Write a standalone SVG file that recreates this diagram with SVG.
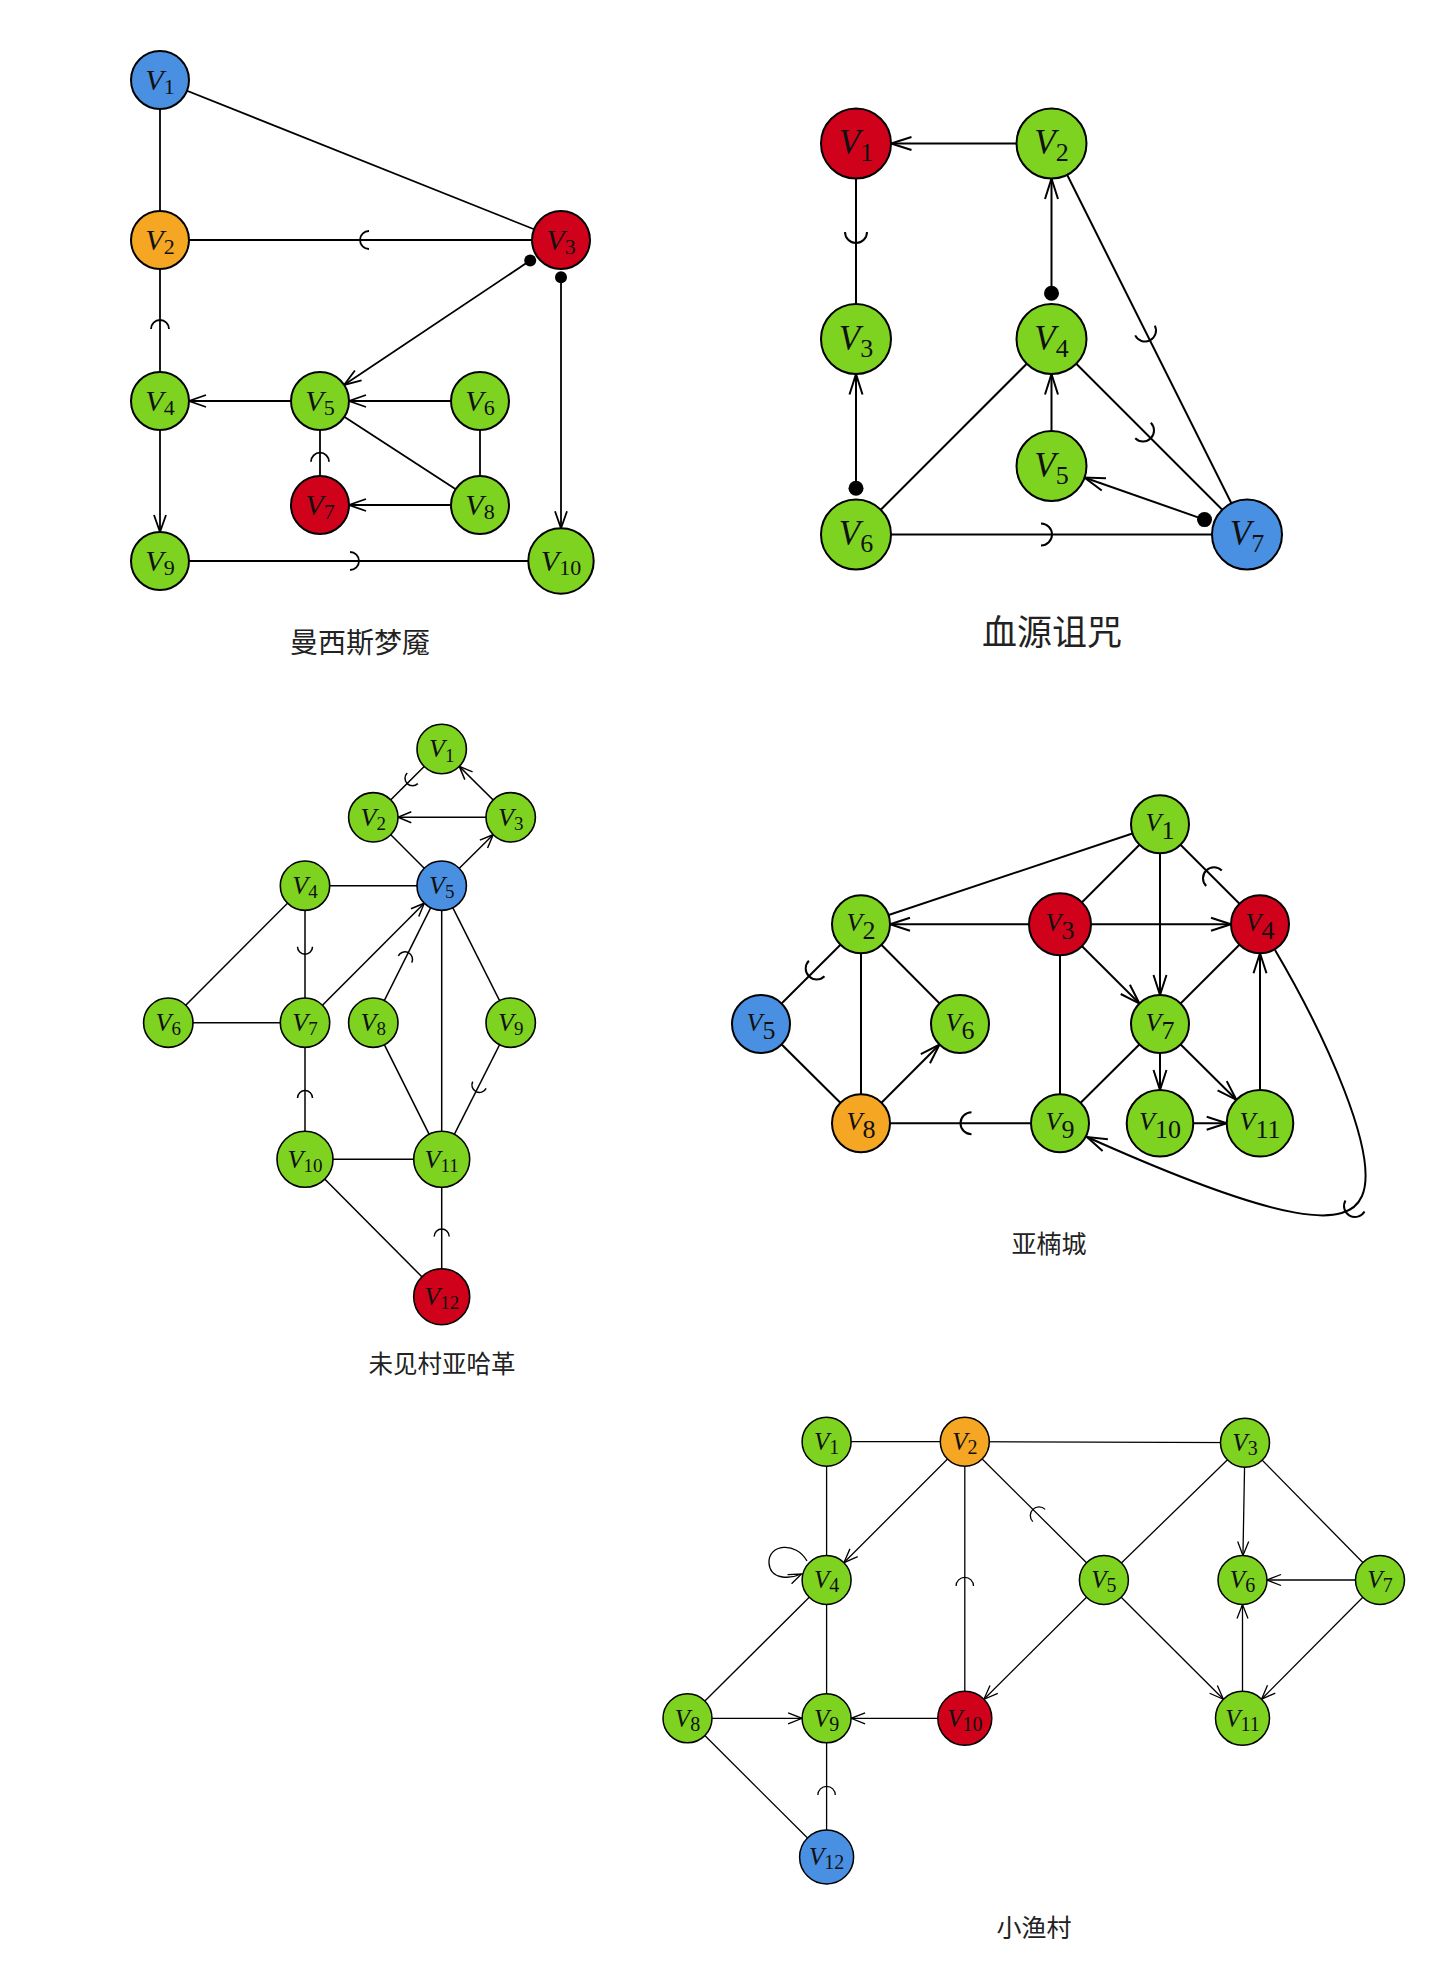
<svg xmlns="http://www.w3.org/2000/svg" xmlns:xlink="http://www.w3.org/1999/xlink" width="1440" height="1964" viewBox="0 0 1440 1964">
<style>
.e{fill:none;stroke:#000}
.e1{stroke-width:1.8}.e2{stroke-width:2}.e3{stroke-width:1.5}.e4{stroke-width:2}.e5{stroke-width:1.3}
.dot{fill:#000;stroke:none}
.n{stroke:#000}
.nb{fill:#4A90E2}.no{fill:#F5A623}.nr{fill:#D0021B}.ng{fill:#7ED321}
.w1{stroke-width:2}.w2{stroke-width:2}.w3{stroke-width:1.6}.w4{stroke-width:2}.w5{stroke-width:1.5}
.lab{font-family:"Liberation Serif","Times New Roman",serif;text-anchor:middle;fill:#111}
.it{font-style:italic}
.L1{font-size:30px}.S1{font-size:22px}
.L2{font-size:35px}.S2{font-size:26px}
.L3{font-size:26px}.S3{font-size:19px}
.L4{font-size:26px}.S4{font-size:26px}
.L5{font-size:25px}.S5{font-size:20px}
.title{font-family:"Noto Sans CJK SC","Noto Sans",sans-serif;text-anchor:middle;fill:#222}
.ah{fill:none;stroke:#000;stroke-linejoin:miter}
</style>
<defs>
<path id="j1" d="M 0 -9 A 9 9 0 0 0 0 9"/>
<path id="j2" d="M 0 -11 A 11 11 0 0 0 0 11"/>
<path id="j3" d="M 0 -7.5 A 7.5 7.5 0 0 0 0 7.5"/>
<path id="j4" d="M 0 -11 A 11 11 0 0 0 0 11"/>
<path id="j5" d="M 0 -8.7 A 8.7 8.7 0 0 0 0 8.7"/>
<marker id="a1" markerUnits="userSpaceOnUse" orient="auto" markerWidth="1" markerHeight="1" overflow="visible"><path class="ah" stroke-width="1.8" d="M -46 -6 L -29 0 L -46 6"/></marker>
<marker id="a1b" markerUnits="userSpaceOnUse" orient="auto" markerWidth="1" markerHeight="1" overflow="visible"><path class="ah" stroke-width="1.8" d="M -49.7 -6 L -32.7 0 L -49.7 6"/></marker>
<marker id="a2" markerUnits="userSpaceOnUse" orient="auto" markerWidth="1" markerHeight="1" overflow="visible"><path class="ah" stroke-width="2" d="M -55.5 -6.5 L -35 0 L -55.5 6.5"/></marker>
<marker id="a3" markerUnits="userSpaceOnUse" orient="auto" markerWidth="1" markerHeight="1" overflow="visible"><path class="ah" stroke-width="1.5" d="M -38 -5.5 L -24.7 0 L -38 5.5"/></marker>
<marker id="a4" markerUnits="userSpaceOnUse" orient="auto" markerWidth="1" markerHeight="1" overflow="visible"><path class="ah" stroke-width="2" d="M -49 -6.5 L -29 0 L -49 6.5"/></marker>
<marker id="a4b" markerUnits="userSpaceOnUse" orient="auto" markerWidth="1" markerHeight="1" overflow="visible"><path class="ah" stroke-width="2" d="M -53.3 -6.5 L -33.3 0 L -53.3 6.5"/></marker>
<marker id="a4c" markerUnits="userSpaceOnUse" orient="auto" markerWidth="1" markerHeight="1" overflow="visible"><path class="ah" stroke-width="2" d="M -20 -6.5 L 0 0 L -20 6.5"/></marker>
<marker id="a5" markerUnits="userSpaceOnUse" orient="auto" markerWidth="1" markerHeight="1" overflow="visible"><path class="ah" stroke-width="1.3" d="M -38.5 -5.5 L -24.5 0 L -38.5 5.5"/></marker>
<marker id="a5b" markerUnits="userSpaceOnUse" orient="auto" markerWidth="1" markerHeight="1" overflow="visible"><path class="ah" stroke-width="1.3" d="M -41 -5.5 L -27 0 L -41 5.5"/></marker>
<marker id="a5c" markerUnits="userSpaceOnUse" orient="auto" markerWidth="1" markerHeight="1" overflow="visible"><path class="ah" stroke-width="1.3" d="M -13 -5 L 0 0 L -13 5"/></marker>
</defs>
<rect width="1440" height="1964" fill="#fff"/>

<!-- Graph 1 connectors -->
<g id="connectors-1" class="e e1">
<line x1="160" y1="80" x2="160" y2="240"/>
<line x1="160" y1="80" x2="561" y2="240"/>
<line x1="160" y1="240" x2="561" y2="240"/>
<use href="#j1" transform="translate(369 240)"/>
<line x1="160" y1="240" x2="160" y2="401"/>
<use href="#j1" transform="translate(160 329) rotate(90)"/>
<line x1="530.2" y1="260.5" x2="320" y2="401" marker-end="url(#a1)"/>
<circle class="dot" cx="530.2" cy="260.5" r="6"/>
<line x1="561" y1="277.3" x2="561" y2="561" marker-end="url(#a1b)"/>
<circle class="dot" cx="561" cy="277.3" r="6"/>
<line x1="320" y1="401" x2="160" y2="401" marker-end="url(#a1)"/>
<line x1="480" y1="401" x2="320" y2="401" marker-end="url(#a1)"/>
<line x1="320" y1="401" x2="480" y2="505"/>
<line x1="480" y1="401" x2="480" y2="505"/>
<line x1="320" y1="505" x2="320" y2="401"/>
<use href="#j1" transform="translate(320 461.7) rotate(90)"/>
<line x1="480" y1="505" x2="320" y2="505" marker-end="url(#a1)"/>
<line x1="160" y1="401" x2="160" y2="561" marker-end="url(#a1)"/>
<line x1="160" y1="561" x2="561" y2="561"/>
<use href="#j1" transform="translate(350 561) rotate(180)"/>
</g>
<g id="g1-V1"><circle class="n nb w1" cx="160" cy="80" r="29"/><text class="lab L1" x="160" y="90"><tspan class="it">V</tspan><tspan class="S1" dy="4">1</tspan></text></g>
<g id="g1-V2"><circle class="n no w1" cx="160" cy="240" r="29"/><text class="lab L1" x="160" y="250"><tspan class="it">V</tspan><tspan class="S1" dy="4">2</tspan></text></g>
<g id="g1-V3"><circle class="n nr w1" cx="561" cy="240" r="29"/><text class="lab L1" x="561" y="250"><tspan class="it">V</tspan><tspan class="S1" dy="4">3</tspan></text></g>
<g id="g1-V4"><circle class="n ng w1" cx="160" cy="401" r="29"/><text class="lab L1" x="160" y="411"><tspan class="it">V</tspan><tspan class="S1" dy="4">4</tspan></text></g>
<g id="g1-V5"><circle class="n ng w1" cx="320" cy="401" r="29"/><text class="lab L1" x="320" y="411"><tspan class="it">V</tspan><tspan class="S1" dy="4">5</tspan></text></g>
<g id="g1-V6"><circle class="n ng w1" cx="480" cy="401" r="29"/><text class="lab L1" x="480" y="411"><tspan class="it">V</tspan><tspan class="S1" dy="4">6</tspan></text></g>
<g id="g1-V7"><circle class="n nr w1" cx="320" cy="505" r="29"/><text class="lab L1" x="320" y="515"><tspan class="it">V</tspan><tspan class="S1" dy="4">7</tspan></text></g>
<g id="g1-V8"><circle class="n ng w1" cx="480" cy="505" r="29"/><text class="lab L1" x="480" y="515"><tspan class="it">V</tspan><tspan class="S1" dy="4">8</tspan></text></g>
<g id="g1-V9"><circle class="n ng w1" cx="160" cy="561" r="29"/><text class="lab L1" x="160" y="571"><tspan class="it">V</tspan><tspan class="S1" dy="4">9</tspan></text></g>
<g id="g1-V10"><circle class="n ng w1" cx="561" cy="561" r="32.7"/><text class="lab L1" x="561" y="571"><tspan class="it">V</tspan><tspan class="S1" dy="4">10</tspan></text></g>
<text id="title-1" class="title" x="360" y="653" font-size="28">曼西斯梦魇</text>

<!-- Graph 2 connectors -->
<g id="connectors-2" class="e e2">
<line x1="1051.5" y1="143.5" x2="856" y2="143.5" marker-end="url(#a2)"/>
<line x1="856" y1="143.5" x2="856" y2="339"/>
<use href="#j2" transform="translate(856 232) rotate(-90)"/>
<line x1="1051.5" y1="293.3" x2="1051.5" y2="143.5" marker-end="url(#a2)"/>
<circle class="dot" cx="1051.5" cy="293.3" r="7.5"/>
<line x1="1051.5" y1="143.5" x2="1247" y2="534.5"/>
<use href="#j2" transform="translate(1145 330.5) rotate(-116.6)"/>
<line x1="856" y1="488.3" x2="856" y2="339" marker-end="url(#a2)"/>
<circle class="dot" cx="856" cy="488.3" r="7.5"/>
<line x1="856" y1="534.5" x2="1051.5" y2="339"/>
<line x1="1051.5" y1="466" x2="1051.5" y2="339" marker-end="url(#a2)"/>
<line x1="1051.5" y1="339" x2="1247" y2="534.5"/>
<use href="#j2" transform="translate(1143 430.5) rotate(-135)"/>
<line x1="1204.5" y1="519.6" x2="1051.5" y2="466" marker-end="url(#a2)"/>
<circle class="dot" cx="1204.5" cy="519.6" r="7.5"/>
<line x1="856" y1="534.5" x2="1247" y2="534.5"/>
<use href="#j2" transform="translate(1041 534.5) rotate(180)"/>
</g>
<g id="g2-V1"><circle class="n nr w2" cx="856" cy="143.5" r="35"/><text class="lab L2" x="856" y="154.2"><tspan class="it">V</tspan><tspan class="S2" dy="7">1</tspan></text></g>
<g id="g2-V2"><circle class="n ng w2" cx="1051.5" cy="143.5" r="35"/><text class="lab L2" x="1051.5" y="154.2"><tspan class="it">V</tspan><tspan class="S2" dy="7">2</tspan></text></g>
<g id="g2-V3"><circle class="n ng w2" cx="856" cy="339" r="35"/><text class="lab L2" x="856" y="349.7"><tspan class="it">V</tspan><tspan class="S2" dy="7">3</tspan></text></g>
<g id="g2-V4"><circle class="n ng w2" cx="1051.5" cy="339" r="35"/><text class="lab L2" x="1051.5" y="349.7"><tspan class="it">V</tspan><tspan class="S2" dy="7">4</tspan></text></g>
<g id="g2-V5"><circle class="n ng w2" cx="1051.5" cy="466" r="35"/><text class="lab L2" x="1051.5" y="476.7"><tspan class="it">V</tspan><tspan class="S2" dy="7">5</tspan></text></g>
<g id="g2-V6"><circle class="n ng w2" cx="856" cy="534.5" r="35"/><text class="lab L2" x="856" y="545.2"><tspan class="it">V</tspan><tspan class="S2" dy="7">6</tspan></text></g>
<g id="g2-V7"><circle class="n nb w2" cx="1247" cy="534.5" r="35"/><text class="lab L2" x="1247" y="545.2"><tspan class="it">V</tspan><tspan class="S2" dy="7">7</tspan></text></g>
<text id="title-2" class="title" x="1052" y="645" font-size="35">血源诅咒</text>

<!-- Graph 3 connectors -->
<g id="connectors-3" class="e e3">
<line x1="441.7" y1="749" x2="373.3" y2="817.3"/>
<use href="#j3" transform="translate(412.5 778.3) rotate(-45)"/>
<line x1="510.7" y1="817.3" x2="441.7" y2="749" marker-end="url(#a3)"/>
<line x1="510.7" y1="817.3" x2="373.3" y2="817.3" marker-end="url(#a3)"/>
<line x1="373.3" y1="817.3" x2="441.7" y2="885.7"/>
<line x1="441.7" y1="885.7" x2="510.7" y2="817.3" marker-end="url(#a3)"/>
<line x1="305" y1="885.7" x2="441.7" y2="885.7"/>
<line x1="305" y1="885.7" x2="168.3" y2="1022.7"/>
<line x1="305" y1="885.7" x2="305" y2="1022.7"/>
<use href="#j3" transform="translate(305 946.7) rotate(-90)"/>
<line x1="168.3" y1="1022.7" x2="305" y2="1022.7"/>
<line x1="305" y1="1022.7" x2="441.7" y2="885.7" marker-end="url(#a3)"/>
<line x1="373.3" y1="1022.7" x2="441.7" y2="885.7"/>
<use href="#j3" transform="translate(405 959.3) rotate(116.6)"/>
<line x1="441.7" y1="885.7" x2="441.7" y2="1159.3"/>
<line x1="441.7" y1="885.7" x2="510.7" y2="1022.7"/>
<line x1="373.3" y1="1022.7" x2="441.7" y2="1159.3"/>
<line x1="510.7" y1="1022.7" x2="441.7" y2="1159.3"/>
<use href="#j3" transform="translate(479.4 1085) rotate(-63.3)"/>
<line x1="305" y1="1022.7" x2="305" y2="1159.3"/>
<use href="#j3" transform="translate(305 1098) rotate(90)"/>
<line x1="305" y1="1159.3" x2="441.7" y2="1159.3"/>
<line x1="305" y1="1159.3" x2="441.7" y2="1296.7"/>
<line x1="441.7" y1="1159.3" x2="441.7" y2="1296.7"/>
<use href="#j3" transform="translate(441.7 1236.5) rotate(90)"/>
</g>
<g id="g3-V1"><circle class="n ng w3" cx="441.7" cy="749" r="24.7"/><text class="lab L3" x="441.7" y="757.3"><tspan class="it">V</tspan><tspan class="S3" dy="4.4">1</tspan></text></g>
<g id="g3-V2"><circle class="n ng w3" cx="373.3" cy="817.3" r="24.7"/><text class="lab L3" x="373.3" y="825.6"><tspan class="it">V</tspan><tspan class="S3" dy="4.4">2</tspan></text></g>
<g id="g3-V3"><circle class="n ng w3" cx="510.7" cy="817.3" r="24.7"/><text class="lab L3" x="510.7" y="825.6"><tspan class="it">V</tspan><tspan class="S3" dy="4.4">3</tspan></text></g>
<g id="g3-V4"><circle class="n ng w3" cx="305" cy="885.7" r="24.7"/><text class="lab L3" x="305" y="894"><tspan class="it">V</tspan><tspan class="S3" dy="4.4">4</tspan></text></g>
<g id="g3-V5"><circle class="n nb w3" cx="441.7" cy="885.7" r="24.7"/><text class="lab L3" x="441.7" y="894"><tspan class="it">V</tspan><tspan class="S3" dy="4.4">5</tspan></text></g>
<g id="g3-V6"><circle class="n ng w3" cx="168.3" cy="1022.7" r="24.7"/><text class="lab L3" x="168.3" y="1031"><tspan class="it">V</tspan><tspan class="S3" dy="4.4">6</tspan></text></g>
<g id="g3-V7"><circle class="n ng w3" cx="305" cy="1022.7" r="24.7"/><text class="lab L3" x="305" y="1031"><tspan class="it">V</tspan><tspan class="S3" dy="4.4">7</tspan></text></g>
<g id="g3-V8"><circle class="n ng w3" cx="373.3" cy="1022.7" r="24.7"/><text class="lab L3" x="373.3" y="1031"><tspan class="it">V</tspan><tspan class="S3" dy="4.4">8</tspan></text></g>
<g id="g3-V9"><circle class="n ng w3" cx="510.7" cy="1022.7" r="24.7"/><text class="lab L3" x="510.7" y="1031"><tspan class="it">V</tspan><tspan class="S3" dy="4.4">9</tspan></text></g>
<g id="g3-V10"><circle class="n ng w3" cx="305" cy="1159.3" r="28"/><text class="lab L3" x="305" y="1167.6"><tspan class="it">V</tspan><tspan class="S3" dy="4.4">10</tspan></text></g>
<g id="g3-V11"><circle class="n ng w3" cx="441.7" cy="1159.3" r="28"/><text class="lab L3" x="441.7" y="1167.6"><tspan class="it">V</tspan><tspan class="S3" dy="4.4">11</tspan></text></g>
<g id="g3-V12"><circle class="n nr w3" cx="441.7" cy="1296.7" r="28"/><text class="lab L3" x="441.7" y="1305"><tspan class="it">V</tspan><tspan class="S3" dy="4.4">12</tspan></text></g>
<text id="title-3" class="title" x="442" y="1373" font-size="24.5">未见村亚哈革</text>

<!-- Graph 4 connectors -->
<g id="connectors-4" class="e e4">
<line x1="1160" y1="824.3" x2="861" y2="924.3"/>
<line x1="1160" y1="824.3" x2="1060" y2="924.3"/>
<line x1="1160" y1="824.3" x2="1160" y2="1024" marker-end="url(#a4)"/>
<line x1="1160" y1="824.3" x2="1260" y2="924.3"/>
<use href="#j4" transform="translate(1214 878.3) rotate(45)"/>
<line x1="1060" y1="924.3" x2="861" y2="924.3" marker-end="url(#a4)"/>
<line x1="1060" y1="924.3" x2="1260" y2="924.3" marker-end="url(#a4)"/>
<line x1="1060" y1="924.3" x2="1160" y2="1024" marker-end="url(#a4)"/>
<line x1="1060" y1="924.3" x2="1060" y2="1123.3"/>
<line x1="1260" y1="924.3" x2="1160" y2="1024"/>
<line x1="1260" y1="1123.3" x2="1260" y2="924.3" marker-end="url(#a4)"/>
<line x1="861" y1="924.3" x2="761" y2="1024"/>
<use href="#j4" transform="translate(816.7 968.5) rotate(-45)"/>
<line x1="861" y1="924.3" x2="861" y2="1123.3"/>
<line x1="861" y1="924.3" x2="960" y2="1024"/>
<line x1="761" y1="1024" x2="861" y2="1123.3"/>
<line x1="861" y1="1123.3" x2="960" y2="1024" marker-end="url(#a4)"/>
<line x1="1160" y1="1024" x2="1060" y2="1123.3"/>
<line x1="1160" y1="1024" x2="1160" y2="1123.3" marker-end="url(#a4b)"/>
<line x1="1160" y1="1024" x2="1260" y2="1123.3" marker-end="url(#a4b)"/>
<line x1="1160" y1="1123.3" x2="1260" y2="1123.3" marker-end="url(#a4b)"/>
<line x1="861" y1="1123.3" x2="1060" y2="1123.3"/>
<use href="#j4" transform="translate(971.5 1123.3)"/>
<path d="M 1275 950 C 1325 1035, 1380 1155, 1362 1196 C 1348 1228, 1290 1228, 1087 1137" marker-end="url(#a4c)"/>
<use href="#j4" transform="translate(1355 1206) rotate(-60)"/>
</g>
<g id="g4-V1"><circle class="n ng w4" cx="1160" cy="824.3" r="29"/><text class="lab L4" x="1160" y="831"><tspan class="it">V</tspan><tspan class="S4" dy="8">1</tspan></text></g>
<g id="g4-V2"><circle class="n ng w4" cx="861" cy="924.3" r="29"/><text class="lab L4" x="861" y="931"><tspan class="it">V</tspan><tspan class="S4" dy="8">2</tspan></text></g>
<g id="g4-V3"><circle class="n nr w4" cx="1060" cy="924.3" r="31"/><text class="lab L4" x="1060" y="931"><tspan class="it">V</tspan><tspan class="S4" dy="8">3</tspan></text></g>
<g id="g4-V4"><circle class="n nr w4" cx="1260" cy="924.3" r="29"/><text class="lab L4" x="1260" y="931"><tspan class="it">V</tspan><tspan class="S4" dy="8">4</tspan></text></g>
<g id="g4-V5"><circle class="n nb w4" cx="761" cy="1024" r="29"/><text class="lab L4" x="761" y="1030.7"><tspan class="it">V</tspan><tspan class="S4" dy="8">5</tspan></text></g>
<g id="g4-V6"><circle class="n ng w4" cx="960" cy="1024" r="29"/><text class="lab L4" x="960" y="1030.7"><tspan class="it">V</tspan><tspan class="S4" dy="8">6</tspan></text></g>
<g id="g4-V7"><circle class="n ng w4" cx="1160" cy="1024" r="29"/><text class="lab L4" x="1160" y="1030.7"><tspan class="it">V</tspan><tspan class="S4" dy="8">7</tspan></text></g>
<g id="g4-V8"><circle class="n no w4" cx="861" cy="1123.3" r="29"/><text class="lab L4" x="861" y="1130"><tspan class="it">V</tspan><tspan class="S4" dy="8">8</tspan></text></g>
<g id="g4-V9"><circle class="n ng w4" cx="1060" cy="1123.3" r="29"/><text class="lab L4" x="1060" y="1130"><tspan class="it">V</tspan><tspan class="S4" dy="8">9</tspan></text></g>
<g id="g4-V10"><circle class="n ng w4" cx="1160" cy="1123.3" r="33.3"/><text class="lab L4" x="1160" y="1130"><tspan class="it">V</tspan><tspan class="S4" dy="8">10</tspan></text></g>
<g id="g4-V11"><circle class="n ng w4" cx="1260" cy="1123.3" r="33.3"/><text class="lab L4" x="1260" y="1130"><tspan class="it">V</tspan><tspan class="S4" dy="8">11</tspan></text></g>
<text id="title-4" class="title" x="1049" y="1253" font-size="25">亚楠城</text>

<!-- Graph 5 connectors -->
<g id="connectors-5" class="e e5">
<line x1="826.6" y1="1441.7" x2="964.8" y2="1441.7"/>
<line x1="964.8" y1="1441.7" x2="1245" y2="1442.7"/>
<line x1="826.6" y1="1441.7" x2="826.6" y2="1580"/>
<line x1="964.8" y1="1441.7" x2="826.6" y2="1580" marker-end="url(#a5)"/>
<line x1="964.8" y1="1441.7" x2="964.8" y2="1718.3"/>
<use href="#j5" transform="translate(964.8 1586) rotate(90)"/>
<line x1="964.8" y1="1441.7" x2="1103.9" y2="1580"/>
<use href="#j5" transform="translate(1039 1515.5) rotate(45)"/>
<line x1="1245" y1="1442.7" x2="1103.9" y2="1580"/>
<line x1="1245" y1="1442.7" x2="1242.5" y2="1580" marker-end="url(#a5)"/>
<line x1="1245" y1="1442.7" x2="1380" y2="1580"/>
<line x1="1380" y1="1580" x2="1242.5" y2="1580" marker-end="url(#a5)"/>
<path d="M 807 1561 C 796 1541, 768 1544, 769 1563 C 770 1580, 790 1579, 801.5 1574" marker-end="url(#a5c)"/>
<line x1="826.6" y1="1580" x2="687.5" y2="1718.3"/>
<line x1="826.6" y1="1580" x2="826.6" y2="1718.3"/>
<line x1="1103.9" y1="1580" x2="964.8" y2="1718.3" marker-end="url(#a5b)"/>
<line x1="1103.9" y1="1580" x2="1242.5" y2="1718.3" marker-end="url(#a5b)"/>
<line x1="1380" y1="1580" x2="1242.5" y2="1718.3" marker-end="url(#a5b)"/>
<line x1="1242.5" y1="1718.3" x2="1242.5" y2="1580" marker-end="url(#a5)"/>
<line x1="687.5" y1="1718.3" x2="826.6" y2="1718.3" marker-end="url(#a5)"/>
<line x1="964.8" y1="1718.3" x2="826.6" y2="1718.3" marker-end="url(#a5)"/>
<line x1="687.5" y1="1718.3" x2="826.6" y2="1857"/>
<line x1="826.6" y1="1718.3" x2="826.6" y2="1857"/>
<use href="#j5" transform="translate(826.6 1795) rotate(90)"/>
</g>
<g id="g5-V1"><circle class="n ng w5" cx="826.6" cy="1441.7" r="24.5"/><text class="lab L5" x="826.6" y="1450"><tspan class="it">V</tspan><tspan class="S5" dy="4">1</tspan></text></g>
<g id="g5-V2"><circle class="n no w5" cx="964.8" cy="1441.7" r="24.5"/><text class="lab L5" x="964.8" y="1450"><tspan class="it">V</tspan><tspan class="S5" dy="4">2</tspan></text></g>
<g id="g5-V3"><circle class="n ng w5" cx="1245" cy="1442.7" r="24.5"/><text class="lab L5" x="1245" y="1451"><tspan class="it">V</tspan><tspan class="S5" dy="4">3</tspan></text></g>
<g id="g5-V4"><circle class="n ng w5" cx="826.6" cy="1580" r="24.5"/><text class="lab L5" x="826.6" y="1588.3"><tspan class="it">V</tspan><tspan class="S5" dy="4">4</tspan></text></g>
<g id="g5-V5"><circle class="n ng w5" cx="1103.9" cy="1580" r="24.5"/><text class="lab L5" x="1103.9" y="1588.3"><tspan class="it">V</tspan><tspan class="S5" dy="4">5</tspan></text></g>
<g id="g5-V6"><circle class="n ng w5" cx="1242.5" cy="1580" r="24.5"/><text class="lab L5" x="1242.5" y="1588.3"><tspan class="it">V</tspan><tspan class="S5" dy="4">6</tspan></text></g>
<g id="g5-V7"><circle class="n ng w5" cx="1380" cy="1580" r="24.5"/><text class="lab L5" x="1380" y="1588.3"><tspan class="it">V</tspan><tspan class="S5" dy="4">7</tspan></text></g>
<g id="g5-V8"><circle class="n ng w5" cx="687.5" cy="1718.3" r="24.5"/><text class="lab L5" x="687.5" y="1726.6"><tspan class="it">V</tspan><tspan class="S5" dy="4">8</tspan></text></g>
<g id="g5-V9"><circle class="n ng w5" cx="826.6" cy="1718.3" r="24.5"/><text class="lab L5" x="826.6" y="1726.6"><tspan class="it">V</tspan><tspan class="S5" dy="4">9</tspan></text></g>
<g id="g5-V10"><circle class="n nr w5" cx="964.8" cy="1718.3" r="27"/><text class="lab L5" x="964.8" y="1726.6"><tspan class="it">V</tspan><tspan class="S5" dy="4">10</tspan></text></g>
<g id="g5-V11"><circle class="n ng w5" cx="1242.5" cy="1718.3" r="27"/><text class="lab L5" x="1242.5" y="1726.6"><tspan class="it">V</tspan><tspan class="S5" dy="4">11</tspan></text></g>
<g id="g5-V12"><circle class="n nb w5" cx="826.6" cy="1857" r="27"/><text class="lab L5" x="826.6" y="1865.3"><tspan class="it">V</tspan><tspan class="S5" dy="4">12</tspan></text></g>
<text id="title-5" class="title" x="1034" y="1936.5" font-size="25">小渔村</text>
</svg>
